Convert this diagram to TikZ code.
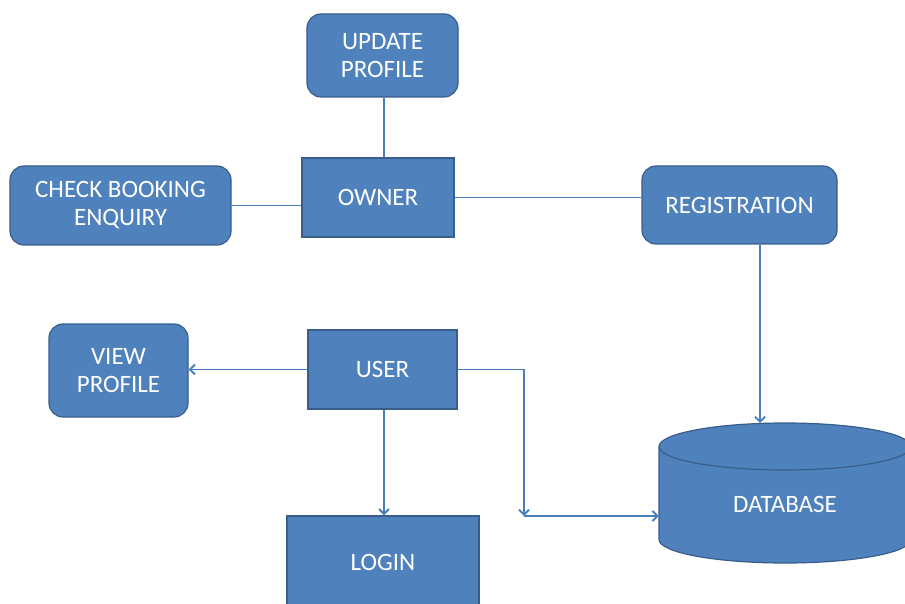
\documentclass[tikz,border=0pt]{standalone}
\usepackage{fontspec}
\setmainfont{Carlito}
\usetikzlibrary{arrows.meta}
\definecolor{boxfill}{HTML}{4F81BD}
\definecolor{boxline}{HTML}{385D8A}
\definecolor{connblue}{HTML}{4A7EBB}
\begin{document}
\begin{tikzpicture}[x=1pt,y=-1pt,
  box/.style={draw=boxline, fill=boxfill, line width=1.2pt, text=white,
    font=\fontsize{25}{28}\selectfont, align=center, inner sep=0pt},
  rbox/.style={box, rounded corners=14pt},
  conn/.style={draw=connblue, line width=1.9pt},
  arr/.style={conn, -{Straight Barb[length=5pt,width=10pt]}}]
\useasboundingbox (0,0) rectangle (905,604);

% nodes
\node[rbox, minimum width=151pt, minimum height=83pt] (upd) at (382.5,55.5) {UPDATE\\PROFILE};
\node[box, minimum width=152pt, minimum height=79pt] (owner) at (378,197.5) {OWNER};
\node[rbox, minimum width=221pt, minimum height=79pt] (check) at (120.5,205.5) {CHECK BOOKING\\ENQUIRY};
\node[rbox, minimum width=195pt, minimum height=78pt] (reg) at (739.5,205) {REGISTRATION};
\node[rbox, minimum width=139pt, minimum height=93pt] (view) at (118.5,370.5) {VIEW\\PROFILE};
\node[box, minimum width=149pt, minimum height=79pt] (user) at (382.5,369.5) {USER};
\node[box, minimum width=192pt, minimum height=92pt] (login) at (383,562) {LOGIN};

% database cylinder
\filldraw[draw=boxline, fill=boxfill, line width=1.2pt]
  (659,446.5) -- (659,539.5) arc[start angle=180, end angle=0, x radius=126, y radius=23.5]
  -- (911,446.5) arc[start angle=360, end angle=180, x radius=126, y radius=23.5] -- cycle;
\draw[draw=boxline, line width=1.2pt]
  (659,446.5) arc[start angle=180, end angle=0, x radius=126, y radius=23.5];
\coordinate (dbtop) at (785,423);
\node[minimum width=252pt, minimum height=116.5pt, inner sep=0pt, text=white,
  font=\fontsize{25}{28}\selectfont] (db) at (785,504.75) {DATABASE};

% connectors
\draw[conn] ([xshift=1.5pt]upd.south) -- ([xshift=1.5pt]upd.south |- owner.north);
\draw[conn] (check.east) -- (check.east -| owner.west);
\draw[conn] (owner.east) -- (owner.east -| reg.west);
\draw[arr] ([xshift=20.5pt]reg.south) -- ([xshift=20.5pt]reg.south |- dbtop);
\draw[arr] (user.west) -- (user.west -| view.east);
\draw[arr] ([xshift=1.5pt]user.south) -- ([xshift=1.5pt]user.south |- login.north);
\coordinate (bend) at (524,516);
\draw[arr] (user.east) -| (bend);
\draw[arr] (bend) -- (bend -| db.west);
\end{tikzpicture}
\end{document}
